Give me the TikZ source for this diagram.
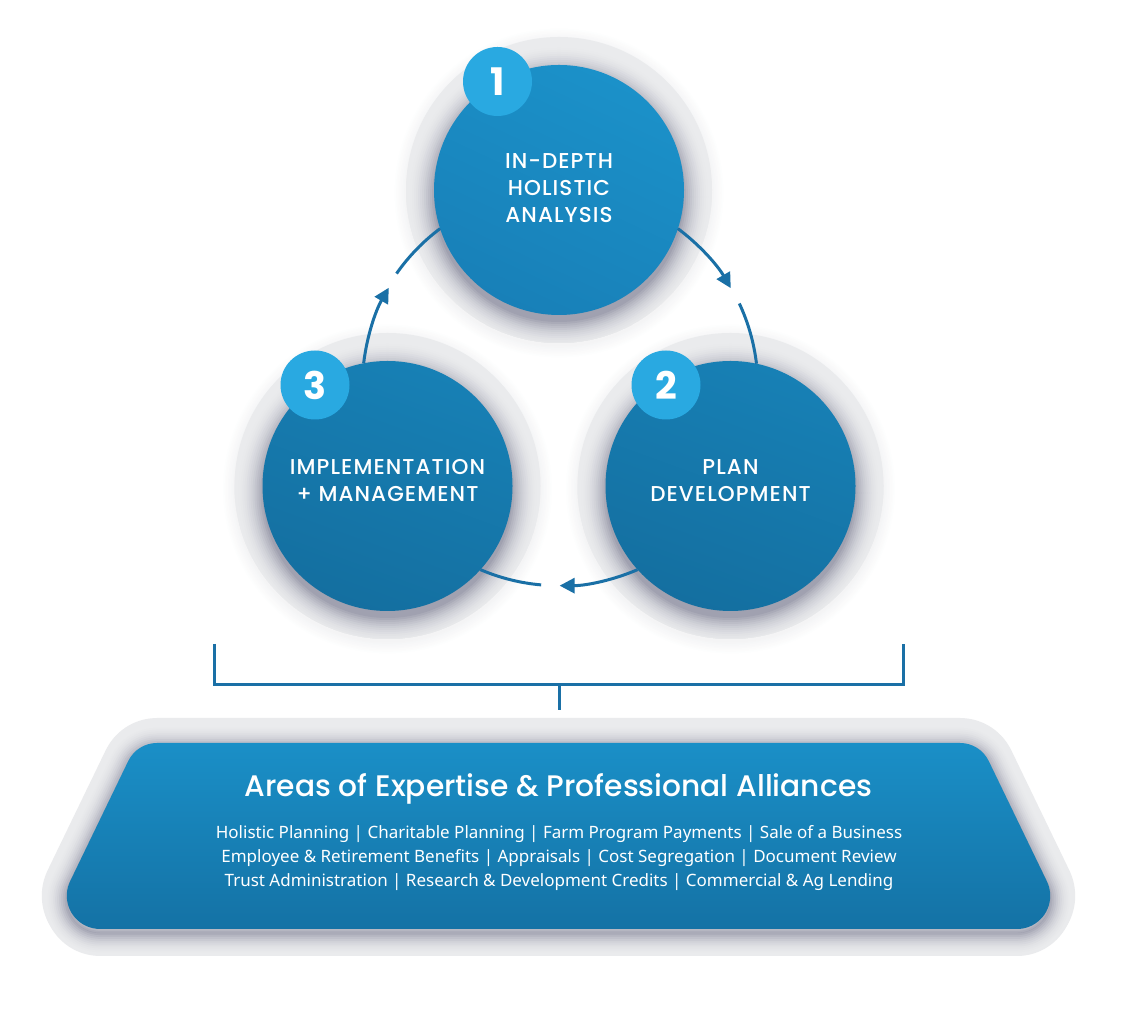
\documentclass[tikz,border=0pt]{standalone}
\usepackage{fontspec}
\setmainfont{Noto Sans}
\newfontfamily\headfont{Poppins Medium}[LetterSpace=5]
\newfontfamily\titlefont{Poppins Medium}
\newfontfamily\digitfont{Poppins}
\usetikzlibrary{arrows.meta}
\definecolor{halo}{HTML}{EAEBED}
\definecolor{shad}{HTML}{A0A1B0}
\definecolor{blueA}{HTML}{1B91C9}
\definecolor{blueB}{HTML}{1880B8}
\definecolor{blueC}{HTML}{1780B5}
\definecolor{blueD}{HTML}{146FA0}
\definecolor{botTop}{HTML}{1A8FC7}
\definecolor{botBot}{HTML}{1472A5}
\definecolor{badge}{HTML}{29A9E1}
\definecolor{linec}{HTML}{1A70A6}
\newcommand\halodisk[2]{%
  \foreach \k in {0,...,8} {
    \pgfmathsetmacro\rr{153+(8-\k)*1.6}
    \pgfmathsetmacro\pp{(\k/8)*55}
    \fill[halo!\pp!white] (#1,#2-3) circle[radius=\rr pt];
  }
  \fill[halo] (#1,#2) circle[radius=153pt];
  \begin{scope}
    \clip (#1,#2) circle[radius=153pt];
    \foreach \k in {0,...,14} {
      \pgfmathsetmacro\rr{125+(14-\k)*2.0}
      \pgfmathsetmacro\pp{(\k/14)^2*100}
      \fill[shad!\pp!halo] (#1,#2-7) circle[radius=\rr pt];
    }
  \end{scope}
}
\def\bpath{(558.5,274) -- (157,274) arc[start angle=90, end angle=154.18, radius=31.9pt] -- (70.1,135.7) arc[start angle=154.18, end angle=270, radius=33.2pt] -- (1017,88) arc[start angle=-90, end angle=25.82, radius=33.2pt] -- (988.7,256.0) arc[start angle=25.82, end angle=90, radius=31.9pt] -- cycle}
\begin{document}
\begin{tikzpicture}[x=1pt,y=1pt,
  stepcircle/.style={circle, minimum size=250pt, inner sep=0pt, outer sep=0pt},
  steptext/.style={text=white, align=center, inner sep=0pt, font=\headfont\fontsize{21.5}{27}\selectfont},
  badgec/.style={circle, fill=badge, minimum size=69pt, inner sep=0pt, outer sep=0pt, text=white, font=\digitfont\bfseries\fontsize{38}{38}\selectfont},
  flow/.style={linec, line width=3pt, -{Triangle[length=15pt,width=15pt]}},
  flowplain/.style={linec, line width=3pt},
  bracketline/.style={linec, line width=3pt},
  titletext/.style={text=white, font=\titlefont\fontsize{29.7}{34}\selectfont, inner sep=0pt},
  bodytext/.style={text=white, align=center, font=\fontsize{17}{24}\selectfont, inner sep=0pt},
]
\useasboundingbox (0,0) rectangle (1124,1017);
\fill[white] (0,0) rectangle (1124,1017);

% halos with soft shadows
\halodisk{559}{827}
\halodisk{387.5}{531}
\halodisk{730.5}{531}

% step circles
\node[stepcircle, top color=blueA, bottom color=blueB, shading angle=-25] (c1) at (559,827) {};
\node[stepcircle, top color=blueC, bottom color=blueD, shading angle=-20] (c3) at (387.5,531) {};
\node[stepcircle, top color=blueC, bottom color=blueD, shading angle=-20] (c2) at (730.5,531) {};
\node[steptext] (t1) at (559,829) {IN-DEPTH\\HOLISTIC\\ANALYSIS};
\node[steptext] (t3) at (387.5,536) {IMPLEMENTATION\\+ MANAGEMENT};
\node[steptext] (t2) at (730.5,536) {PLAN\\DEVELOPMENT};

% cycle arrows on a circle of radius 198 around (559,630)
\draw[flow] (c3.101.6) arc[start angle=173.2, end angle=150, radius=198pt];
\draw[flowplain] (c1.198.4) arc[start angle=126.8, end angle=145, radius=198pt];
\draw[flow] (c1.-18.4) arc[start angle=53.2, end angle=30, radius=198pt];
\draw[flowplain] (c2.78.4) arc[start angle=6.8, end angle=25, radius=198pt];
\draw[flow] (c2.-138.4) arc[start angle=-66.8, end angle=-90, radius=198pt];
\draw[flowplain] (c3.318.4) arc[start angle=-113.2, end angle=-95, radius=198pt];

% badges
\node[badgec] (b1) at (497.5,935.5) {1};
\node[badgec] (b3) at (315,632) {3};
\node[badgec] (b2) at (666,632) {2};

% bracket
\coordinate (bl) at (214,373);
\coordinate (br) at (903,373);
\coordinate (bm) at (559,332);
\coordinate (stem) at (559,307);
\draw[bracketline] (bl) |- (bm) -| (br);
\draw[bracketline] (bm) -- (stem);

% bottom panel
\fill[halo] \bpath;
\draw[halo, line width=50pt, line join=round] \bpath;
\foreach \k in {0,...,12} {
  \pgfmathsetmacro\ww{2*(23-1.9*\k)}
  \pgfmathsetmacro\pp{(\k/12)^2*100}
  \draw[shad!\pp!halo, line width=\ww pt, line join=round, yshift=-4pt] \bpath;
}
\shade[top color=botTop, bottom color=botBot] \bpath;

\node[titletext] (areas) at (558.5,228) {Areas of Expertise \& Professional Alliances};
\node[bodytext] (list) at (559,159) {Holistic Planning | Charitable Planning | Farm Program Payments | Sale of a Business\\
Employee \& Retirement Benefits | Appraisals | Cost Segregation | Document Review\\
Trust Administration | Research \& Development Credits | Commercial \& Ag Lending};
\end{tikzpicture}
\end{document}
